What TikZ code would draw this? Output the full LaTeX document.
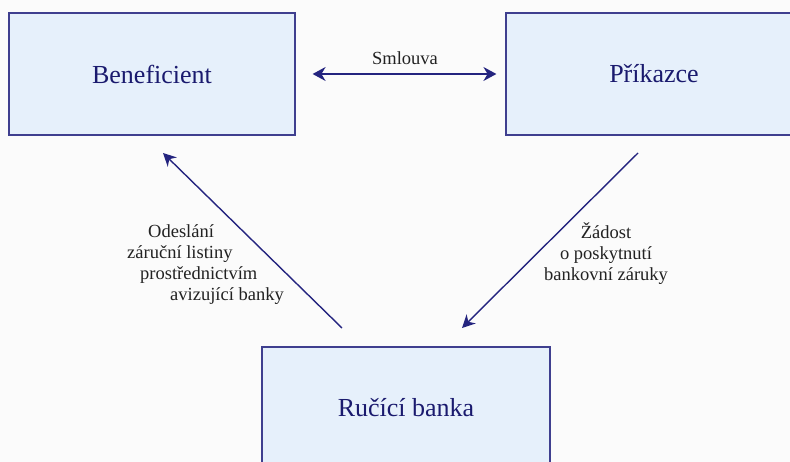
\documentclass[tikz,border=0pt]{standalone}
\usepackage{fontspec}
\setmainfont{Liberation Serif}
\usetikzlibrary{arrows.meta}
\definecolor{bgc}{HTML}{FBFBFB}
\definecolor{boxfill}{HTML}{E6F0FB}
\definecolor{boxline}{HTML}{3F3F8F}
\definecolor{boxtext}{HTML}{1A1A6E}
\definecolor{arrowc}{HTML}{24247F}
\definecolor{labc}{HTML}{222222}
\tikzset{
  party/.style={draw=boxline, line width=1.2pt, fill=boxfill, minimum width=286pt, minimum height=122pt, inner sep=0pt, text=boxtext, font=\fontsize{26}{30}\selectfont},
  flow/.style={draw=arrowc, line width=1.4pt, -{Stealth[length=13pt,width=13pt]}},
  lab/.style={text=labc, font=\fontsize{18.5}{21}\selectfont, inner sep=0pt}
}
\begin{document}
\begin{tikzpicture}[x=1pt,y=-1pt]
\fill[bgc] (0,0) rectangle (790,462);
\useasboundingbox (0,0) rectangle (790,462);
\begin{scope}
\clip (0,0) rectangle (790,462);
\node[party] (ben) at (152,74) {Beneficient};
\node[party, minimum width=296pt] (pri) at (654,74) {Příkazce};
\node[party, minimum width=288pt] (rb) at (406,408) {Ručící banka};
\end{scope}
\draw[flow, line width=1.8pt, {Stealth[length=13pt,width=14pt]}-{Stealth[length=13pt,width=14pt]}, shorten <=17pt, shorten >=9pt] (ben.east |- 0,74) -- (pri.west |- 0,74);
\node[lab, anchor=base] (sm) at (405,65) {Smlouva};
\coordinate (l1) at (342,328);
\coordinate (l2) at (163,153);
\coordinate (r1) at (638,153);
\coordinate (r2) at (462,328);
\draw[flow] (l1) -- (l2);
\draw[flow] (r1) -- (r2);
\node[lab, anchor=north west, align=left] (ll) at (127,224) {\hspace*{21pt}Odeslání\\záruční listiny\\\hspace*{13pt}prostřednictvím\\\hspace*{43pt}avizující banky};
\node[lab, anchor=north, align=center] (rl) at (606,222) {Žádost\\o poskytnutí\\bankovní záruky};
\end{tikzpicture}
\end{document}
